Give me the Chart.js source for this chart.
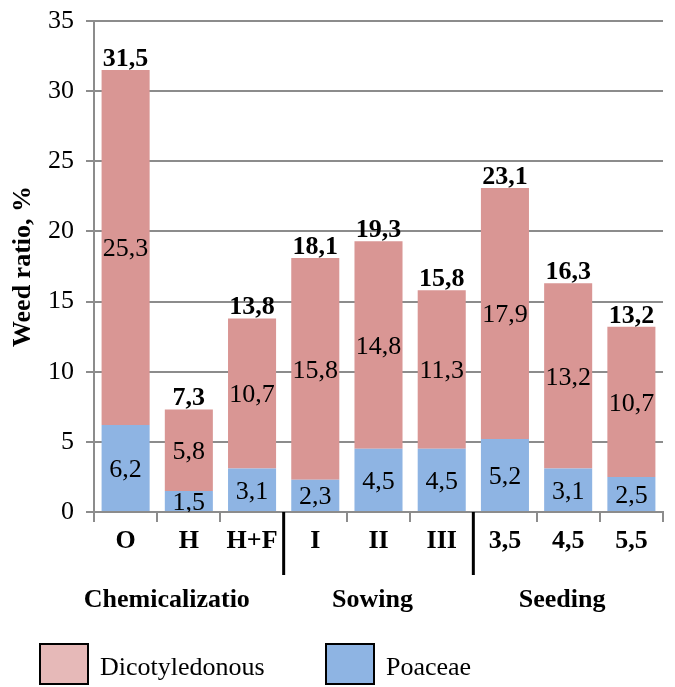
<!DOCTYPE html>
<html lang="en">
<head>
    <meta charset="UTF-8">
    <title>Weed ratio</title>
    <script src="https://cdn.jsdelivr.net/npm/chart.js"></script>
    <style>
        html, body { margin: 0; padding: 0; background: #fff; }
        #wrap { width: 675px; height: 687px; position: relative; }
    </style>
</head>
<body>
    <div id="wrap"><canvas id="weedChart"></canvas></div>

    <script>
        // data
        const categories = ['O', 'H', 'H+F', 'I', 'II', 'III', '3,5', '4,5', '5,5'];
        const poaceae = [6.2, 1.5, 3.1, 2.3, 4.5, 4.5, 5.2, 3.1, 2.5];
        const dicotyledonous = [25.3, 5.8, 10.7, 15.8, 14.8, 11.3, 17.9, 13.2, 10.7];
        const groupNames = ['Chemicalizatio', 'Sowing', 'Seeding'];
        const groupSize = 3;
        const yTicks = [0, 5, 10, 15, 20, 25, 30, 35];

        const PINK = '#D99694';
        const BLUE = '#8EB4E3';
        const GRID = '#8c8c8c';
        const SERIF = '"Liberation Serif", "Times New Roman", serif';
        const FS = 26;

        const fmt = v => v.toFixed(1).replace('.', ',');

        // value labels inside the segments + bold totals on top
        const labelPlugin = {
            id: 'labels',
            afterDatasetsDraw(chart) {
                const ctx = chart.ctx;
                const area = chart.chartArea;
                ctx.save();
                ctx.beginPath();
                ctx.rect(area.left, area.top - 40, area.right - area.left, area.bottom - area.top + 40);
                ctx.clip();
                ctx.fillStyle = '#000';
                ctx.textAlign = 'center';
                ctx.textBaseline = 'middle';
                ctx.font = FS + 'px ' + SERIF;
                chart.data.datasets.forEach((ds, i) => {
                    chart.getDatasetMeta(i).data.forEach((bar, j) => {
                        ctx.fillText(fmt(ds.data[j]), bar.x, (bar.y + bar.base) / 2 + 2);
                    });
                });
                ctx.font = 'bold ' + FS + 'px ' + SERIF;
                ctx.textBaseline = 'bottom';
                const top = chart.getDatasetMeta(1).data;
                top.forEach((bar, j) => {
                    ctx.fillText(fmt(poaceae[j] + dicotyledonous[j]), bar.x, bar.y + 2);
                });
                ctx.restore();
            },
            afterDraw(chart) {
                const ctx = chart.ctx;
                const x = chart.scales.x;
                const bottom = chart.chartArea.bottom;
                const step = x.getPixelForValue(1) - x.getPixelForValue(0);
                ctx.save();
                // group separators
                ctx.strokeStyle = '#000';
                ctx.lineWidth = 3;
                for (let g = 1; g < groupNames.length; g++) {
                    const px = x.getPixelForValue(g * groupSize) - step / 2;
                    ctx.beginPath();
                    ctx.moveTo(px, bottom);
                    ctx.lineTo(px, bottom + 63);
                    ctx.stroke();
                }
                // group names
                ctx.fillStyle = '#000';
                ctx.font = 'bold ' + FS + 'px ' + SERIF;
                ctx.textAlign = 'center';
                ctx.textBaseline = 'middle';
                groupNames.forEach((name, g) => {
                    const a = x.getPixelForValue(g * groupSize);
                    const b = x.getPixelForValue(g * groupSize + groupSize - 1);
                    const shift = g === 0 ? -22 : -6;
                    ctx.fillText(name, (a + b) / 2 + shift, bottom + 88);
                });
                // legend
                const items = [
                    { text: 'Dicotyledonous', color: '#E6B9B8', x: 40 },
                    { text: 'Poaceae', color: BLUE, x: 326 }
                ];
                ctx.font = FS + 'px ' + SERIF;
                ctx.textAlign = 'left';
                items.forEach(it => {
                    ctx.fillStyle = it.color;
                    ctx.fillRect(it.x, 644, 48, 40);
                    ctx.strokeStyle = '#000';
                    ctx.lineWidth = 2;
                    ctx.strokeRect(it.x, 644, 48, 40);
                    ctx.fillStyle = '#000';
                    ctx.fillText(it.text, it.x + 60, 668);
                });
                ctx.restore();
            }
        };

        new Chart(document.getElementById('weedChart'), {
            type: 'bar',
            data: {
                labels: categories,
                datasets: [
                    { label: 'Poaceae', data: poaceae, backgroundColor: BLUE },
                    { label: 'Dicotyledonous', data: dicotyledonous, backgroundColor: PINK }
                ]
            },
            options: {
                responsive: true,
                maintainAspectRatio: false,
                animation: false,
                layout: { padding: { top: 21, right: 12, bottom: 125, left: 0 } },
                datasets: { bar: { barPercentage: 0.76, categoryPercentage: 1 } },
                plugins: {
                    legend: { display: false },
                    tooltip: { enabled: false }
                },
                scales: {
                    x: {
                        stacked: true,
                        afterFit: s => { s.height = 50; s.paddingLeft = 0; s.paddingRight = 0; },
                        grid: { offset: true, drawOnChartArea: false, drawTicks: true, tickLength: 10, color: GRID, lineWidth: 2 },
                        border: { color: GRID, width: 2 },
                        ticks: { color: '#000', padding: 4, font: { family: SERIF, size: FS, weight: 'bold' } }
                    },
                    y: {
                        stacked: true,
                        min: 0,
                        max: 35,
                        afterFit: s => { s.width = 94; s.paddingTop = 0; s.paddingBottom = 0; },
                        afterBuildTicks: s => { s.ticks = yTicks.map(v => ({ value: v })); },
                        grid: { color: GRID, lineWidth: 2, tickLength: 8 },
                        border: { color: GRID, width: 2 },
                        ticks: { color: '#000', padding: 12, font: { family: SERIF, size: FS } },
                        title: {
                            display: true,
                            text: 'Weed ratio, %',
                            color: '#000',
                            padding: { top: 8, bottom: 0 },
                            font: { family: SERIF, size: FS, weight: 'bold' }
                        }
                    }
                }
            },
            plugins: [labelPlugin]
        });
    </script>
</body>
</html>
